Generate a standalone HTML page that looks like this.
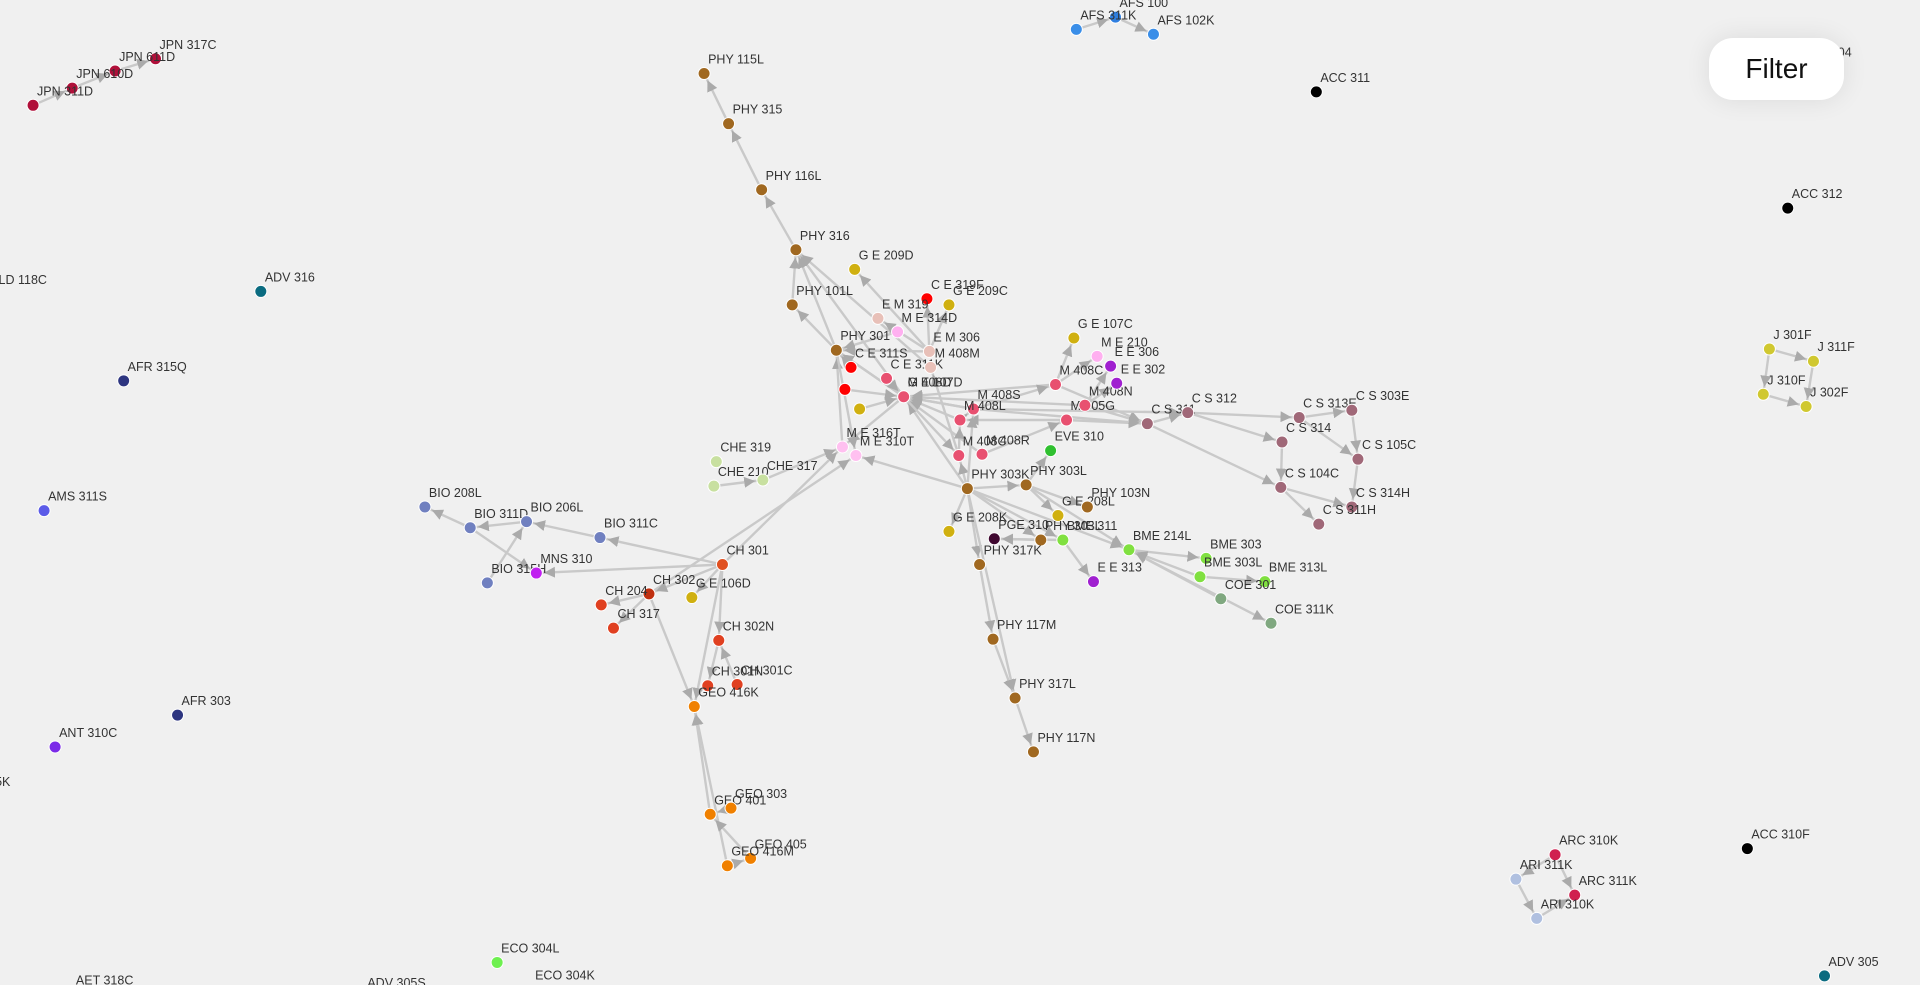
<!DOCTYPE html>
<html><head><meta charset="utf-8"><title>Course graph</title>
<style>
html,body{margin:0;padding:0;background:#f0f0f0;width:1920px;height:985px;overflow:hidden;font-family:"Liberation Sans",sans-serif}
#filter{position:absolute;left:1709px;top:38px;width:135px;height:62px;background:#fff;border-radius:24px;box-shadow:0 0 26px rgba(0,0,0,0.09);font-size:28px;color:#111;display:flex;align-items:center;justify-content:center;cursor:pointer}
svg text{font-size:12.5px;fill:#333;font-family:"Liberation Sans",sans-serif}
</style></head><body>
<svg id="g" width="1920" height="985" style="position:absolute;left:0;top:0">
<defs><marker id="arr" viewBox="0 0 10 10" refX="17" refY="5" markerWidth="11" markerHeight="11" markerUnits="userSpaceOnUse" orient="auto"><path d="M0,0 L10,5 L0,10 z" fill="#aaa"/></marker></defs>
<g id="edges"></g>
<g id="nodes"></g>
</svg>
<div id="filter">Filter</div>
<script>
const S=1920/1568;
const nodeLabels=["JPN 317C","JPN 611D","JPN 610D","JPN 311D","AFS 100","AFS 311K","AFS 102K","ACC 311","ACC 312","ADV 316","AFR 315Q","AMS 311S","AFR 303","ANT 310C","ECO 304L","ADV 305","ACC 310F","ARC 310K","ARI 311K","ARC 311K","ARI 310K","J 301F","J 311F","J 310F","J 302F",
"PHY 115L","PHY 315","PHY 116L","PHY 316","PHY 101L","G E 209D","C E 319F","G E 209C","E M 319","M E 314D","E M 306","PHY 301","C E 311S","C E 311K","C E 3X","G E 107D","G E 1Y","M 408S","M 408L","M 408C","M 408R","M 305G","M 408C2","M 408N","E E 306","E E 302","M E 210","G E 107C","EVE 310","C S 311","C S 312","C S 313E","C S 303E","C S 314","C S 105C","C S 104C","C S 314H","C S 311H","M E 316T","M E 310T",
"PHY 303K","PHY 303L","G E 208L","PHY 103N","G E 208K","PGE 310","PHY 3B","BME 311","BME 214L","BME 303","BME 303L","BME 313L","COE 301","COE 311K","E E 313","PHY 317K","PHY 117M","PHY 317L","PHY 117N",
"CHE 319","CHE 210","CHE 317","BIO 208L","BIO 311D","BIO 206L","BIO 311C","BIO 315H","MNS 310","CH 301","CH 302","CH 204","CH 317","G E 106D","CH 302N","CH 301N","CH 301C","GEO 416K","GEO 401","GEO 303","GEO 405","GEO 416M","M 408D","M 408M"];
const shownLabels={"JPN 611D":"JPN 611D","C E 3X":"","G E 1Y":"","M 408C2":"M 408C","PHY 3B":"PHY 303L","M 408N":"M 408N","BIO 315H":"BIO 315H","M 408M":"M 408M","M 408D":"M 408D"};
const nodeX=[127,94,59,27,911,879,942,1075,1460,213,101,36,145,45,406,1490,1427,1270,1238,1286,1255,1445,1481,1440,1475,
575,595,622,650,647,698,757,775,717,733,759,683,695,724,690,738,702,795,784,783,802,871,862,886,907,912,896,877,858,937,970,1061,1104,1047,1109,1046,1104,1077,688,699,
790,838,864,888,775,812,850,868,922,985,980,1033,997,1038,893,800,811,829,844,
585,583,623,347,384,430,490,398,438,590,530,491,501,565,587,578,602,567,580,597,613,594,738,760];
const nodeY=[48,58,72,86,14,24,28,75,170,238,311,417,584,610,786,797,693,698,718,731,750,285,295,322,332,
60,101,155,204,249,220,244,249,260,271,287,286,300,309,318,324,334,334,343,372,371,343,314,331,299,313,291,276,368,346,337,341,335,361,375,398,414,428,365,372,
399,396,421,414,434,440,441,441,449,456,471,475,489,509,475,461,522,570,614,
377,397,392,414,431,426,439,476,468,461,485,494,513,488,523,560,559,577,665,660,701,707,324,300];
const nodeColor=["#b0103a","#b0103a","#b0103a","#b0103a","#2f7fe0","#3a8ee8","#3a8ee8","#000","#000","#0a6b80","#2d3580","#5b5be8","#2d3580","#7b2ae8","#6ef050","#0a6b80","#000","#d02050","#b0c0e0","#d02050","#b0c0e0","#d0c830","#d0c830","#d0c830","#d0c830",
"#a06820","#a06820","#a06820","#a06820","#a06820","#d0b010","#f00","#d0b010","#e8c0b8","#ffb0f0","#e8c0b8","#a06820","#f00","#e85070","#f00","#e85070","#d0b010","#e85070","#e85070","#e85070","#e85070","#e85070","#e85070","#e85070","#a020d0","#a020d0","#ffb0f0","#d0b010","#30c030","#a06878","#a06878","#a06878","#a06878","#a06878","#a06878","#a06878","#a06878","#a06878","#ffc0f0","#ffc0f0",
"#a06820","#a06820","#d0b010","#a06820","#d0b010","#400830","#a06820","#80e040","#80e040","#80e040","#80e040","#80e040","#80a880","#80a880","#a020d0","#a06820","#a06820","#a06820","#a06820",
"#c8e0a0","#c8e0a0","#c8e0a0","#7080c0","#7080c0","#7080c0","#7080c0","#7080c0","#c020f0","#e05020","#c03010","#e04020","#e04020","#d0b010","#e04020","#e04020","#e04020","#f08000","#f08000","#f08000","#f08000","#f08000","#e85070","#e8c0b8"];
const edgeList=[["JPN 311D","JPN 610D"],["JPN 610D","JPN 611D"],["JPN 611D","JPN 317C"],["AFS 311K","AFS 100"],["AFS 100","AFS 102K"],
["J 301F","J 311F"],["J 301F","J 310F"],["J 310F","J 302F"],["J 311F","J 302F"],["ARC 310K","ARI 311K"],["ARC 310K","ARC 311K"],["ARI 311K","ARI 310K"],["ARI 310K","ARC 311K"],
["PHY 315","PHY 115L"],["PHY 116L","PHY 315"],["PHY 316","PHY 116L"],["PHY 301","PHY 316"],["PHY 101L","PHY 316"],["PHY 301","PHY 101L"],["M 408D","PHY 316"],["M 408M","PHY 316"],["E M 306","G E 209D"],["E M 306","E M 319"],["E M 306","C E 319F"],["E M 306","G E 209C"],["M E 314D","PHY 301"],["E M 306","PHY 301"],
["M 408D","PHY 301"],["G E 107D","PHY 301"],["C E 311S","PHY 301"],["M E 316T","PHY 301"],["C E 311K","G E 107D"],["M 408S","G E 107D"],["M 408L","G E 107D"],["M 408C","M 408M"],["M 408R","M 408D"],["M 408S","M 408D"],["M 408C2","M 408D"],["M 305G","M 408L"],["M 408N","M 408D"],
["G E 1Y","M 408D"],["C E 3X","M 408D"],["M 408L","M 408S"],["M 408C","M 408L"],["M 408R","M 305G"],["M 408S","M 408C2"],["M 408C2","G E 107C"],["M 408C2","M E 210"],["M 408N","E E 306"],["M 408N","E E 302"],["M 408C2","C S 311"],["M 305G","C S 311"],["M 408N","C S 311"],["M 408S","C S 311"],
["C S 311","C S 312"],["C S 312","C S 313E"],["C S 312","C S 314"],["C S 313E","C S 303E"],["C S 313E","C S 105C"],["C S 314","C S 104C"],["C S 303E","C S 105C"],["C S 105C","C S 314H"],["C S 104C","C S 314H"],["C S 104C","C S 311H"],["C S 311","C S 104C"],["M 408S","C S 312"],
["G E 107D","M E 316T"],["PHY 303K","M E 310T"],["PHY 303K","G E 107D"],["PHY 303K","M 408C"],["PHY 303K","M 408S"],["PHY 303K","PHY 303L"],["PHY 303L","EVE 310"],["PHY 303L","G E 208L"],["PHY 303L","PHY 103N"],["PHY 303L","BME 214L"],["PHY 303K","BME 214L"],["PHY 303K","G E 208K"],["PHY 303K","PHY 317K"],["PHY 303K","PHY 3B"],["PHY 3B","PGE 310"],["BME 311","PGE 310"],["PHY 303K","BME 311"],
["BME 214L","BME 303"],["BME 303L","BME 214L"],["BME 303L","BME 313L"],["BME 214L","COE 311K"],["COE 301","BME 214L"],["BME 311","E E 313"],["PHY 317K","PHY 117M"],["PHY 117M","PHY 317L"],["PHY 303K","PHY 317L"],["PHY 317L","PHY 117N"],["G E 107D","M 408C"],
["CHE 210","CHE 317"],["CHE 317","M E 316T"],["CH 301","M E 316T"],["CH 302","M E 310T"],["CH 301","BIO 311C"],["BIO 311C","BIO 206L"],["BIO 206L","BIO 311D"],["BIO 311D","BIO 208L"],["BIO 315H","BIO 206L"],["BIO 311D","MNS 310"],["CH 301","MNS 310"],["CH 301","CH 302"],["CH 302","CH 204"],["CH 302","CH 317"],
["CH 301","G E 106D"],["CH 301","CH 302N"],["CH 302N","CH 301N"],["CH 301C","CH 302N"],["CH 301","GEO 416K"],["CH 302","GEO 416K"],["GEO 401","GEO 416K"],["GEO 416M","GEO 416K"],["GEO 303","GEO 401"],["GEO 405","GEO 401"],["GEO 416M","GEO 405"],["PHY 301","M E 310T"]];
const NS="http://www.w3.org/2000/svg";
const sx=v=>v*S, sy=v=>v*S;
const idx=n=>nodeLabels.indexOf(n);
const eg=document.getElementById('edges'), ng=document.getElementById('nodes');
edgeList.forEach(([a,b])=>{const i=idx(a),j=idx(b);if(i<0||j<0)return;
const l=document.createElementNS(NS,'line');


l.setAttribute('x1',sx(nodeX[i]));l.setAttribute('y1',sy(nodeY[i]));l.setAttribute('x2',sx(nodeX[j]));l.setAttribute('y2',sy(nodeY[j]));
l.setAttribute('stroke','#c9c9c9');l.setAttribute('stroke-width','2.4');l.setAttribute('marker-end','url(#arr)');eg.appendChild(l);});
nodeLabels.forEach((n,i)=>{
const c=document.createElementNS(NS,'circle');


c.setAttribute('cx',sx(nodeX[i]));c.setAttribute('cy',sy(nodeY[i]));c.setAttribute('r',6);c.setAttribute('fill',nodeColor[i]);c.setAttribute('stroke','#fff');c.setAttribute('stroke-width','1');ng.appendChild(c);
const lab=(n in shownLabels)?shownLabels[n]:n; if(!lab)return;
const t=document.createElementNS(NS,'text');


t.setAttribute('x',sx(nodeX[i])+4);t.setAttribute('y',sy(nodeY[i])-10);t.textContent=lab;ng.appendChild(t);});
const extraLabels=["ALD 118C","5K","ECO 304K","AET 318C","ADV 305S","R 304"];
const extraX=[-8,-4,437,62,300,1485];
const extraY=[232,642,800,804,806,46];
extraLabels.forEach((n,i)=>{const t=document.createElementNS(NS,'text');


t.setAttribute('x',sx(extraX[i]));t.setAttribute('y',sy(extraY[i]));t.textContent=n;ng.appendChild(t);});
</script>
</body></html>
